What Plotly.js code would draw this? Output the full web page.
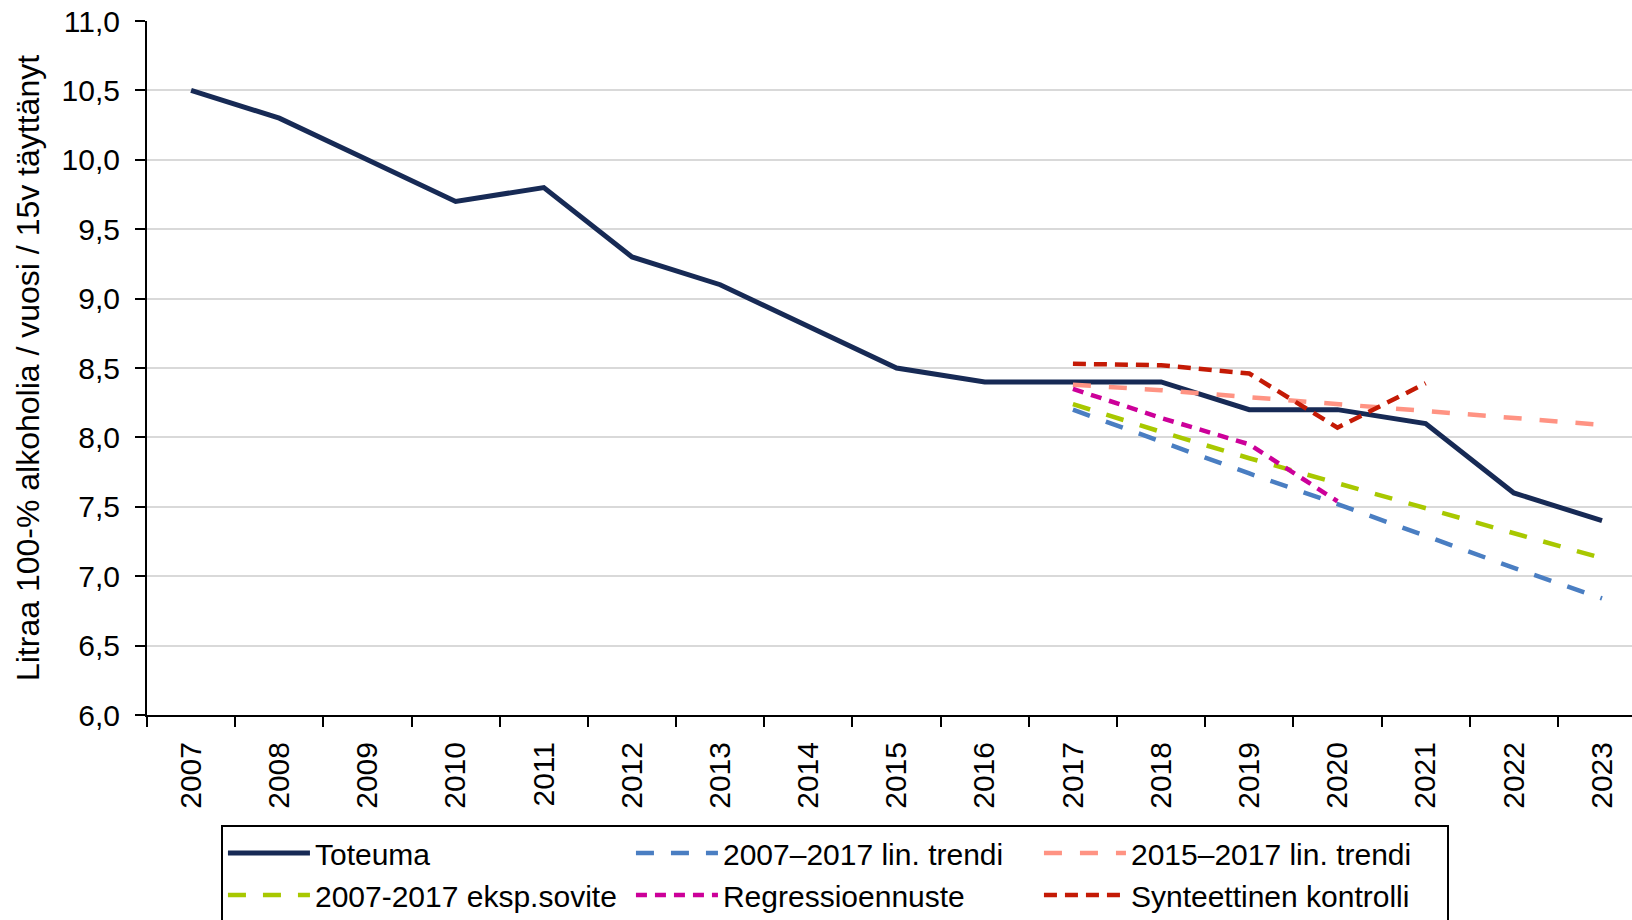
<!DOCTYPE html>
<html>
<head>
<meta charset="utf-8">
<script src="https://cdn.plot.ly/plotly-3.0.1.min.js"></script>
<style>
  html, body { margin: 0; padding: 0; background: #ffffff; }
  #kaavio { width: 1632px; height: 920px; }
</style>
</head>
<body>
<div id="kaavio"></div>
<script>
// Vuodet ja toteuma
const vuodet = ['2007', '2008', '2009', '2010', '2011', '2012', '2013', '2014', '2015',
                '2016', '2017', '2018', '2019', '2020', '2021', '2022', '2023'];
const toteuma = [10.5, 10.3, 10.0, 9.7, 9.8, 9.3, 9.1, 8.8, 8.5, 8.4, 8.4, 8.4, 8.2, 8.2, 8.1, 7.6, 7.4];

// Ennusteet vuodesta 2017 alkaen
const ennusteVuodet = ['2017', '2018', '2019', '2020', '2021', '2022', '2023'];
const linTrendi0717 = [8.20, 7.97, 7.74, 7.52, 7.29, 7.06, 6.84];
const linTrendi1517 = [8.38, 8.34, 8.29, 8.24, 8.19, 8.14, 8.09];
const ekspSovite = [8.24, 8.04, 7.85, 7.67, 7.49, 7.31, 7.13];
const regressio = [8.35, 8.14, 7.95, 7.54];
const synteettinen = [8.53, 8.52, 8.46, 8.07, 8.39];

const fontti = 'Liberation Sans, Arial, sans-serif';

const viiva = (x, y, name, color, width, dash) => ({
    x, y, name, type: 'scatter', mode: 'lines', hoverinfo: 'skip',
    line: { color, width, dash }
});

const data = [
    viiva(vuodet, toteuma, 'Toteuma', '#172a55', 5, 'solid'),
    viiva(ennusteVuodet, linTrendi0717, '2007–2017 lin. trendi', '#4a7ec2', 4.5, '18px,17px'),
    viiva(ennusteVuodet, linTrendi1517, '2015–2017 lin. trendi', '#ff9383', 4.5, '18px,18px'),
    viiva(ennusteVuodet, ekspSovite, '2007-2017 eksp.sovite', '#a8c800', 4.5, '18px,17px'),
    viiva(ennusteVuodet.slice(0, regressio.length), regressio, 'Regressioennuste', '#cc0099', 4.5, '11px,8px'),
    viiva(ennusteVuodet.slice(0, synteettinen.length), synteettinen, 'Synteettinen kontrolli', '#c41a05', 4.5, '13px,8px')
];

const layout = {
    width: 1632,
    height: 920,
    margin: { l: 147, r: 0, t: 21, b: 205, pad: 0, autoexpand: false },
    paper_bgcolor: '#ffffff',
    plot_bgcolor: '#ffffff',
    separators: ', ',
    font: { family: fontti, size: 28, color: '#000000' },
    showlegend: true,
    xaxis: {
        type: 'category',
        range: [-0.5, 16.34],
        automargin: false,
        tickson: 'boundaries',
        ticks: 'outside',
        ticklen: 10,
        tickwidth: 2,
        tickcolor: '#000000',
        tickangle: -90,
        ticklabelstandoff: 13,
        tickfont: { size: 30 },
        showline: true,
        linecolor: '#000000',
        linewidth: 2,
        showgrid: false,
        zeroline: false,
        fixedrange: true
    },
    yaxis: {
        range: [6, 11],
        automargin: false,
        dtick: 0.5,
        tick0: 6,
        tickformat: '.1f',
        ticks: 'outside',
        ticklen: 10,
        tickwidth: 2,
        tickcolor: '#000000',
        ticklabelstandoff: 9,
        tickfont: { size: 30 },
        showline: true,
        linecolor: '#000000',
        linewidth: 2,
        showgrid: true,
        gridcolor: '#d9d9d9',
        gridwidth: 2,
        zeroline: false,
        fixedrange: true,
        title: {
            text: 'Litraa 100-% alkoholia / vuosi / 15v täyttänyt',
            font: { size: 32 },
            standoff: 12
        }
    },
    legend: {
        orientation: 'h',
        xref: 'paper',
        yref: 'paper',
        x: 0.0498,
        xanchor: 'left',
        y: -0.1585,
        yanchor: 'top',
        bgcolor: '#ffffff',
        bordercolor: '#000000',
        borderwidth: 2,
        itemwidth: 82,
        entrywidth: 311,
        entrywidthmode: 'pixels',
        font: { family: fontti, size: 30 },
        traceorder: 'normal'
    }
};

Plotly.newPlot('kaavio', data, layout, { displayModeBar: false, staticPlot: true });
</script>
</body>
</html>
